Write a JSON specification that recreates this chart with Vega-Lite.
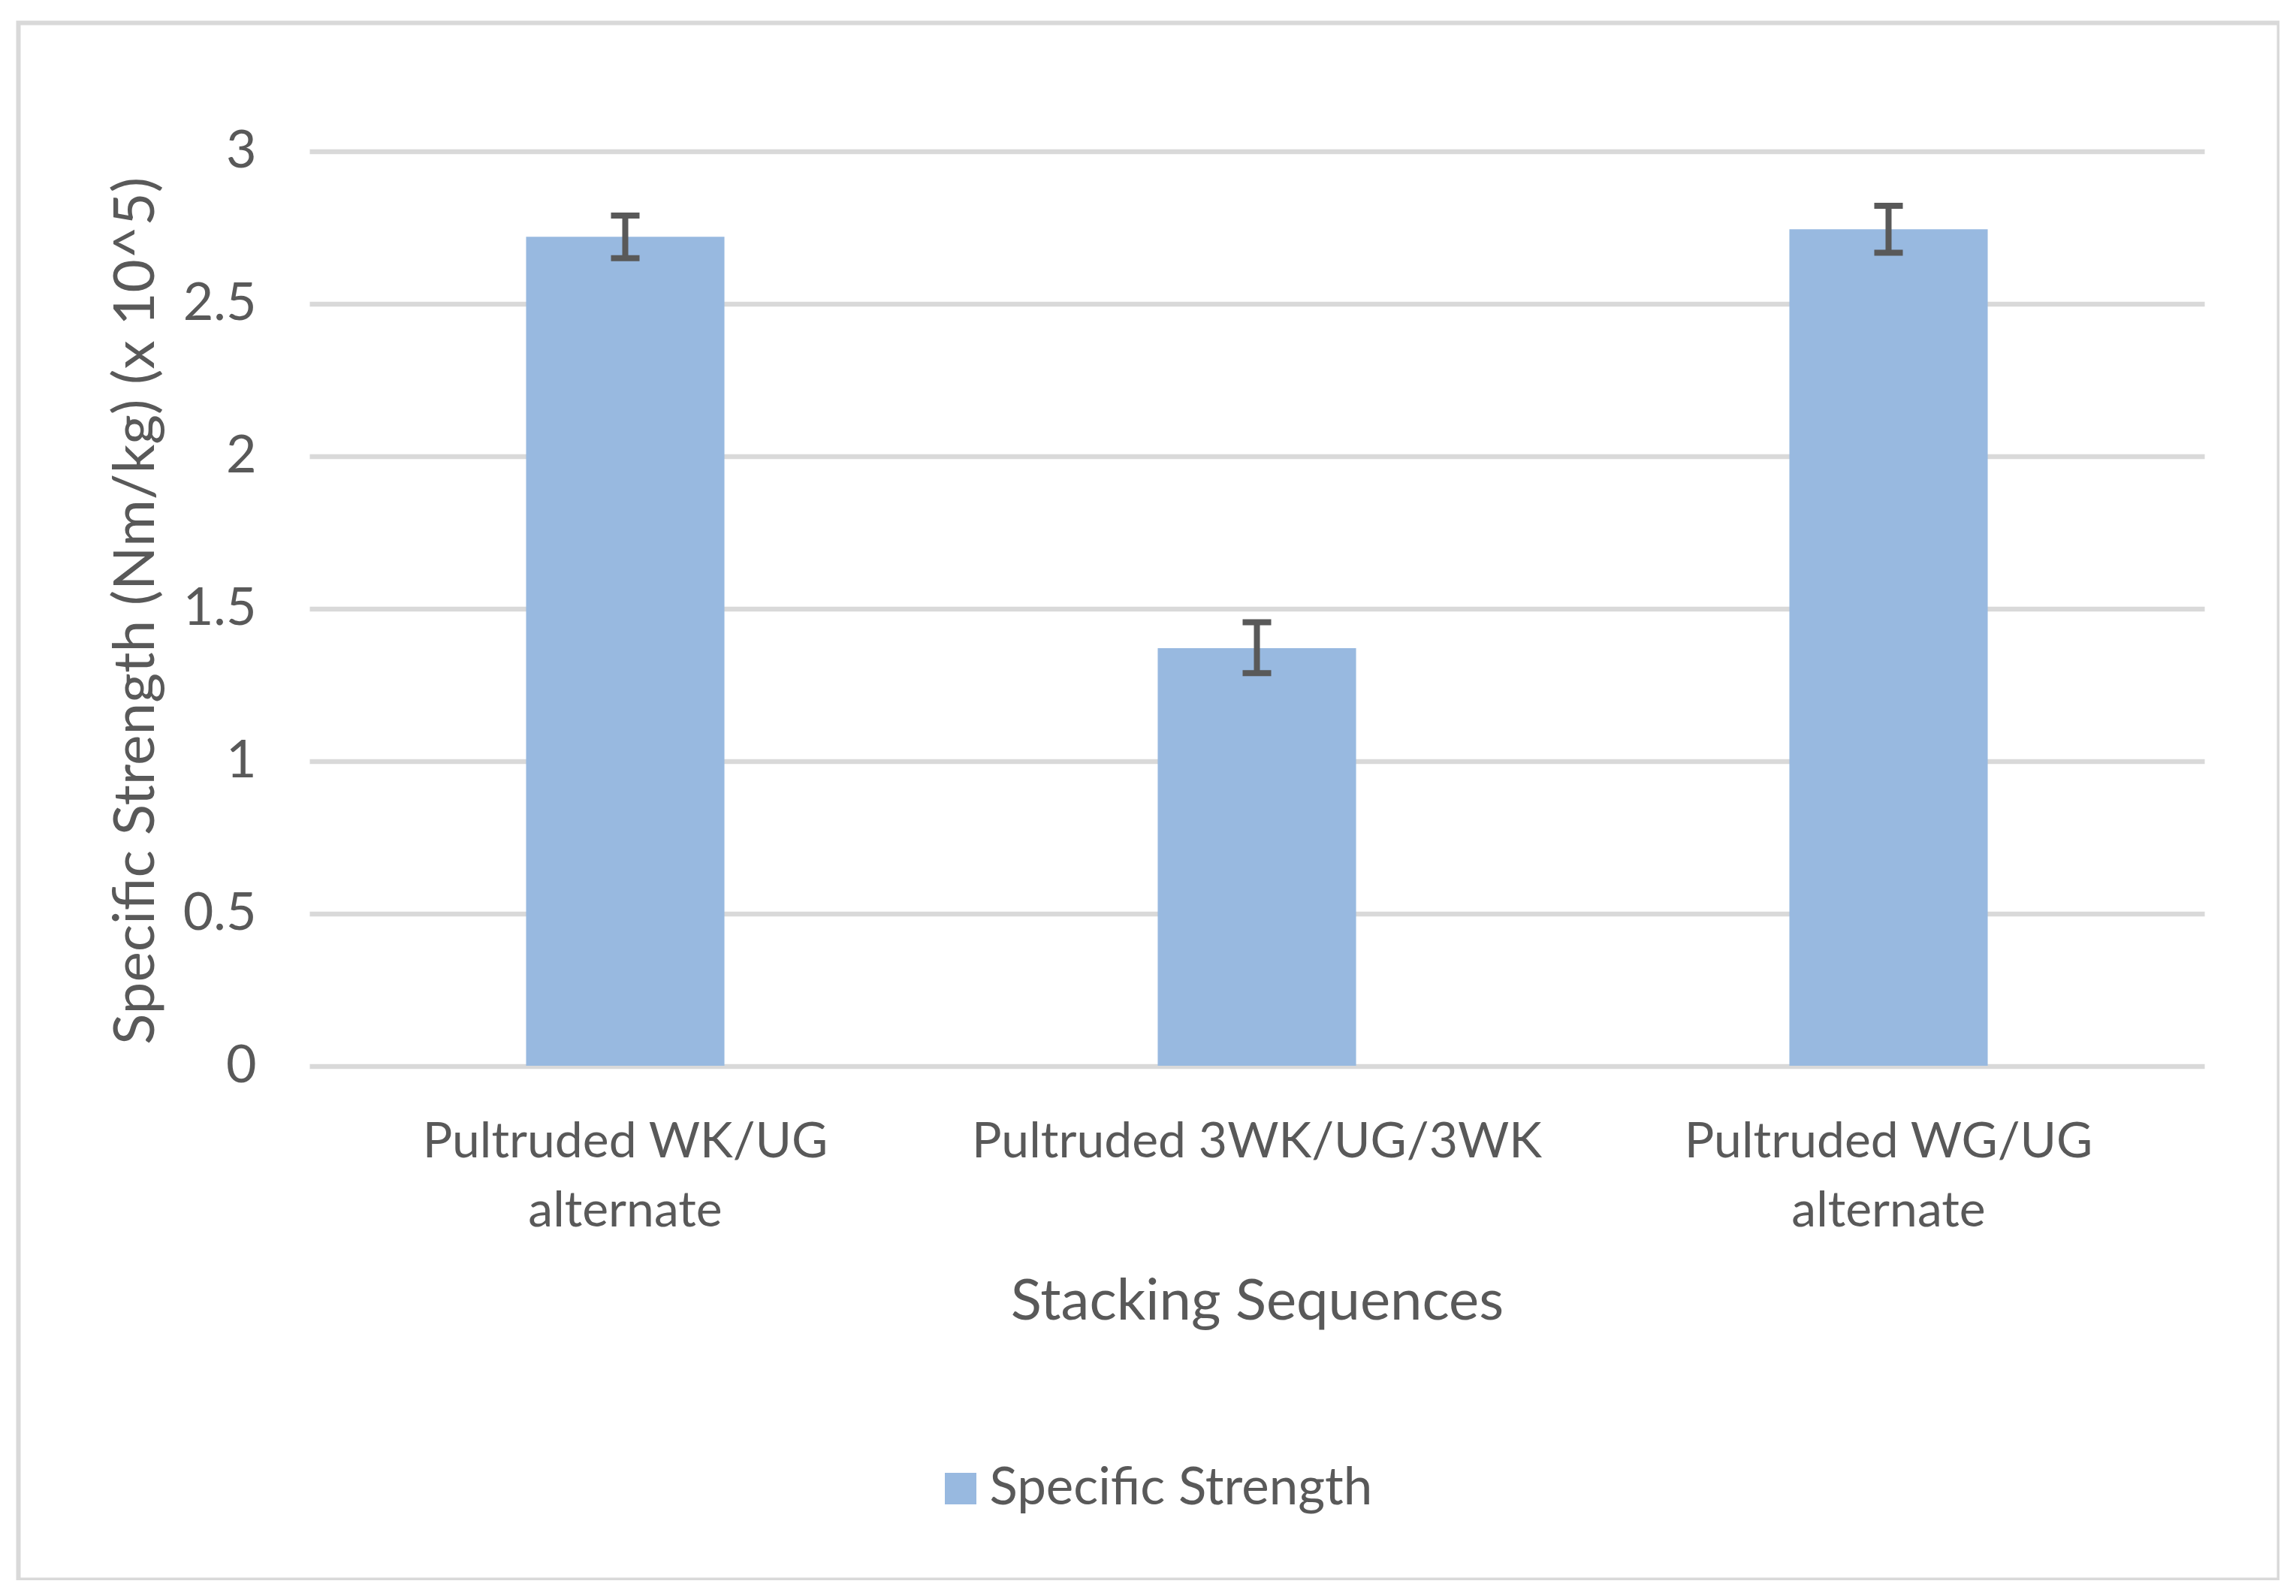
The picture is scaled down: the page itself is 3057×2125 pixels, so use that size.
{
  "$schema": "https://vega.github.io/schema/vega-lite/v6.json",
  "width": 3010,
  "height": 2073,
  "autosize": {"type": "none"},
  "padding": {"left": 24.5, "top": 30.5, "right": 0, "bottom": 0},
  "background": "white",
  "config": {
    "view": {"stroke": "#d9d9d9", "strokeWidth": 6},
    "font": "Lato",
    "axis": {"labelFont": "Lato", "titleFont": "Lato", "labelColor": "#595959", "titleColor": "#595959", "titleFontWeight": "normal"},
    "legend": {"labelFont": "Lato", "labelColor": "#595959"}
  },
  "data": {
    "values": [
      {"seq": "Pultruded WK/UG\nalternate", "value": 2.72, "lo": 2.65, "hi": 2.79, "series": "Specific Strength"},
      {"seq": "Pultruded 3WK/UG/3WK", "value": 1.37, "lo": 1.288, "hi": 1.455, "series": "Specific Strength"},
      {"seq": "Pultruded WG/UG\nalternate", "value": 2.745, "lo": 2.668, "hi": 2.822, "series": "Specific Strength"}
    ]
  },
  "encoding": {
    "x": {
      "field": "seq",
      "type": "nominal",
      "sort": null,
      "scale": {"range": [387.5, 2910.5], "paddingInner": 0.686, "paddingOuter": 0.343},
      "axis": {
        "title": "Stacking Sequences",
        "titleFontSize": 76,
        "titleX": 1649,
        "titleY": 337,
        "titleBaseline": "alphabetic",
        "titleAlign": "center",
        "labelExpr": "split(datum.label, '\\n')",
        "labelFontSize": 66,
        "labelLineHeight": 92,
        "labelBaseline": "top",
        "labelPadding": 69,
        "labelAngle": 0,
        "labelLimit": 0,
        "labelOverlap": false,
        "ticks": false,
        "tickSize": 0,
        "domain": false,
        "grid": false,
        "offset": -684.5
      }
    }
  },
  "layer": [
    {
      "mark": {"type": "bar", "color": "#98b9e0"},
      "encoding": {
        "y": {
          "field": "value",
          "type": "quantitative",
          "title": "Specific Strength (Nm/kg) (x 10^5)",
          "scale": {"domain": [0, 3], "nice": false, "zero": true, "range": [1388.5, 171.2]},
          "axis": {
            "values": [0, 0.5, 1, 1.5, 2, 2.5, 3],
            "format": "~g",
            "labelFontSize": 70,
            "labelPadding": 71,
            "ticks": false,
            "tickSize": 0,
            "domain": false,
            "grid": true,
            "gridColor": "#d9d9d9",
            "gridWidth": 6.5,
            "offset": -387.5,
            "titleFontSize": 76.5,
            "titleX": -208,
            "titleY": 782.5,
            "titleAngle": -90,
            "titleBaseline": "alphabetic",
            "titleAlign": "center",
            "titleLimit": 0
          }
        },
        "color": {
          "field": "series",
          "type": "nominal",
          "scale": {"range": ["#98b9e0"]},
          "legend": {
            "title": null,
            "orient": "none",
            "legendX": 1220,
            "legendY": 1917,
            "symbolType": "square",
            "symbolSize": 1764,
            "symbolStrokeWidth": 0,
            "labelFontSize": 69,
            "labelOffset": 4,
            "labelLimit": 0,
            "padding": 0
          }
        }
      }
    },
    {
      "mark": {"type": "rule", "color": "#595959", "strokeWidth": 8},
      "encoding": {
        "y": {"field": "lo", "type": "quantitative", "title": "Specific Strength (Nm/kg) (x 10^5)"},
        "y2": {"field": "hi"}
      }
    },
    {
      "mark": {"type": "tick", "color": "#595959", "size": 38, "thickness": 8, "orient": "horizontal", "opacity": 1},
      "encoding": {
        "y": {"field": "lo", "type": "quantitative", "title": "Specific Strength (Nm/kg) (x 10^5)"}
      }
    },
    {
      "mark": {"type": "tick", "color": "#595959", "size": 38, "thickness": 8, "orient": "horizontal", "opacity": 1},
      "encoding": {
        "y": {"field": "hi", "type": "quantitative", "title": "Specific Strength (Nm/kg) (x 10^5)"}
      }
    }
  ]
}
